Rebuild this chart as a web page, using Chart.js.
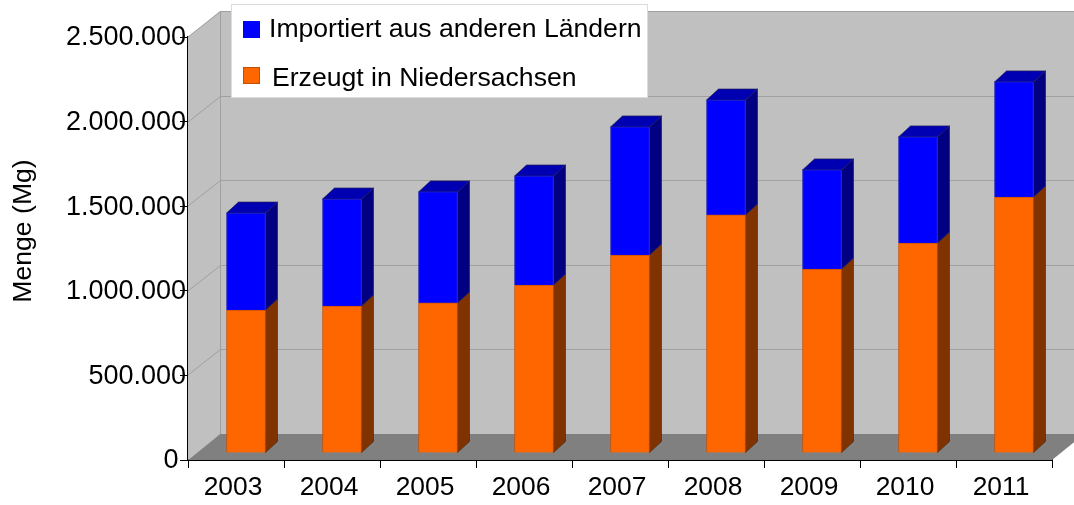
<!DOCTYPE html>
<html>
<head>
<meta charset="utf-8">
<style>html,body{margin:0;padding:0;background:#fff}canvas{display:block}</style>
<script src="https://cdn.jsdelivr.net/npm/chart.js@4"></script>
</head>
<body>
<canvas id="c" width="1074" height="505"></canvas>
<script>
const categories = ['2003','2004','2005','2006','2007','2008','2009','2010','2011'];
const erzeugt = [845000,869000,887000,993000,1170000,1407000,1087000,1241000,1513000];
const importiert = [573000,632000,656000,644000,757000,679000,586000,627000,680000];
const seriesNames = ['Erzeugt in Niedersachsen','Importiert aus anderen Ländern'];
const yTicks = [0,500000,1000000,1500000,2000000,2500000];
const yTitle = 'Menge (Mg)';
const FONT = '"Liberation Sans", Arial, sans-serif';

const wallDX = 32, wallDY = 26, barDX = 10, barDY = -7, depthX = 12, depthY = 11;
const faces = [{side:'#803300', top:'#b34700', edge:'rgba(60,25,0,.55)'}, {side:'#000080', top:'#0000b2', edge:'rgba(30,30,90,.7)'}];

function poly(ctx, pts, fill, stroke){
  ctx.beginPath();
  pts.forEach((p,i)=> i ? ctx.lineTo(p[0],p[1]) : ctx.moveTo(p[0],p[1]));
  ctx.closePath();
  ctx.fillStyle = fill; ctx.fill();
  if (stroke){ ctx.strokeStyle = stroke; ctx.lineWidth = 1; ctx.stroke(); }
}

const room3d = {
  id:'room3d',
  beforeDatasetsDraw(chart){
    const {ctx, chartArea:a, scales:{y}} = chart;
    ctx.save();
    const t = a.top, b = a.bottom, l = a.left, r = a.right;
    poly(ctx, [[l,t],[l+wallDX,t-wallDY],[r+wallDX,t-wallDY],[r+wallDX,b-wallDY],[l+wallDX,b-wallDY],[l,b]], '#c0c0c0');
    poly(ctx, [[l,b],[l+wallDX,b-wallDY],[r+wallDX,b-wallDY],[r,b]], '#808080');
    ctx.strokeStyle = '#a0a0a0'; ctx.lineWidth = 1;
    yTicks.slice(1).forEach(v=>{
      const py = Math.round(y.getPixelForValue(v));
      ctx.beginPath();
      ctx.moveTo(l, py); ctx.lineTo(l+wallDX+.5, py-wallDY+.5); ctx.lineTo(r+wallDX, py-wallDY+.5);
      ctx.stroke();
    });
    ctx.beginPath(); ctx.moveTo(l+wallDX+.5, t-wallDY); ctx.lineTo(l+wallDX+.5, b-wallDY); ctx.stroke();
    ctx.restore();

    // bars stand inside the room: shift the library's bars and draw their depth faces
    ctx.save();
    ctx.translate(barDX, barDY);
    chart.data.datasets.forEach((ds,i)=>{
      const f = faces[i];
      chart.getDatasetMeta(i).data.forEach(el=>{
        const p = el.getProps(['x','y','base','width'], true);
        const R = p.x + p.width/2, L = p.x - p.width/2;
        poly(ctx, [[R,p.y],[R+depthX,p.y-depthY],[R+depthX,p.base-depthY],[R,p.base]], f.side, f.edge);
        if (i === chart.data.datasets.length-1)
          poly(ctx, [[L,p.y],[L+depthX,p.y-depthY],[R+depthX,p.y-depthY],[R,p.y]], f.top, f.edge);
      });
    });
  },
  afterDatasetsDraw(chart){ chart.ctx.restore(); },
  afterDraw(chart){
    const ctx = chart.ctx;
    ctx.save();
    // legend
    ctx.fillStyle = '#fff'; ctx.fillRect(231.5,4.5,416,93);
    ctx.strokeStyle = '#dcdcdc'; ctx.lineWidth = 1; ctx.strokeRect(231.5,4.5,416,93);
    const ds = chart.data.datasets;
    ctx.font = '26.6px ' + FONT; ctx.textBaseline = 'alphabetic'; ctx.textAlign = 'left';
    ctx.fillStyle = ds[1].backgroundColor; ctx.fillRect(243,21,17,17);
    ctx.fillStyle = ds[0].backgroundColor; ctx.fillRect(243,67,17,17);
    ctx.strokeStyle = '#c05000'; ctx.strokeRect(243.5,67.5,16,16);
    ctx.fillStyle = '#000';
    ctx.fillText(ds[1].label, 269, 37);
    ctx.fillText(ds[0].label, 272, 86);
    // axis title
    ctx.translate(24, 231); ctx.rotate(-Math.PI/2);
    ctx.textAlign = 'center'; ctx.textBaseline = 'middle';
    ctx.fillText(yTitle, 0, 0);
    ctx.restore();
  }
};

new Chart(document.getElementById('c'), {
  type:'bar',
  data:{
    labels: categories,
    datasets:[
      {label:seriesNames[0], data:erzeugt, backgroundColor:'#ff6600', borderColor:'#c85000', borderWidth:1, barThickness:39, clip:false},
      {label:seriesNames[1], data:importiert, backgroundColor:'#0000ff', borderColor:'#2020c0', borderWidth:1, barThickness:39, clip:false}
    ]
  },
  options:{
    responsive:false, animation:false,
    layout:{padding:{top:37,right:22,left:0,bottom:0}},
    plugins:{legend:{display:false}, tooltip:{enabled:false}, title:{display:false}},
    scales:{
      x:{
        stacked:true,
        afterFit(s){ s.height = 45; },
        grid:{offset:true, drawOnChartArea:false, color:'#000', tickLength:8, lineWidth:1},
        border:{display:true, color:'#000', width:2},
        ticks:{color:'#000', font:{family:FONT,size:26.4}, padding:4, labelOffset:-3, maxRotation:0, autoSkip:false}
      },
      y:{
        stacked:true, min:0, max:2500000,
        afterFit(s){ s.width = 188; },
        afterBuildTicks(s){ s.ticks = yTicks.map(v=>({value:v})); },
        grid:{drawOnChartArea:false, color:'#000', tickLength:8, lineWidth:1},
        border:{display:true, color:'#000', width:2},
        ticks:{color:'#000', font:{family:FONT,size:27}, padding:-6, labelOffset:1,
          callback(v){ return v === 0 ? '0\u00a0' : v.toLocaleString('de-DE'); }}
      }
    }
  },
  plugins:[room3d]
});
</script>
</body>
</html>
